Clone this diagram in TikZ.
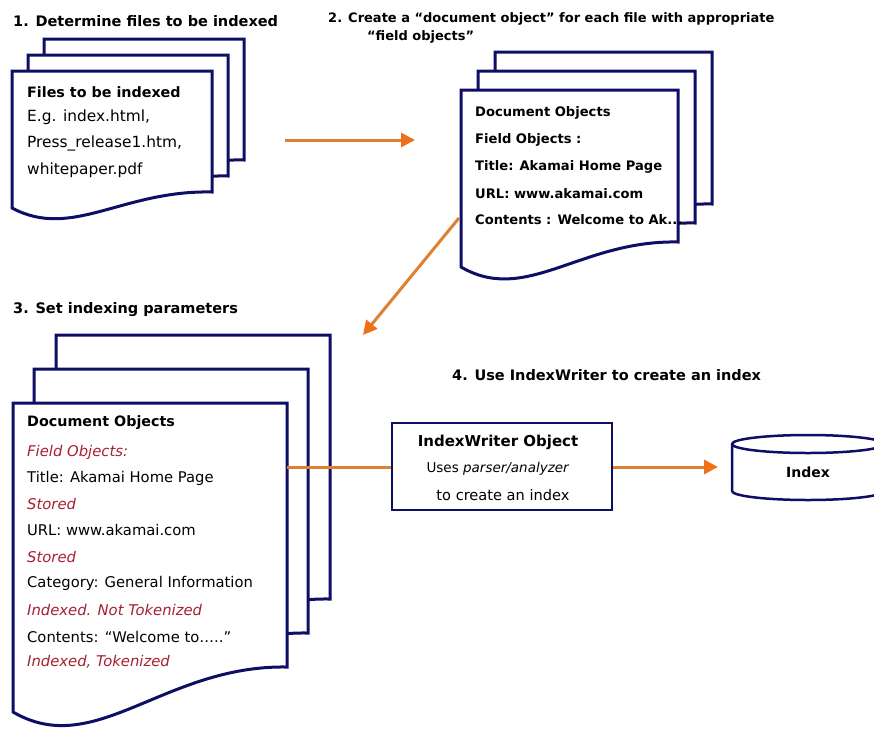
\documentclass[tikz,border=0pt]{standalone}
\usepackage{fontspec}
\setmainfont{DejaVu Sans}
\usetikzlibrary{arrows.meta}
\definecolor{navy}{RGB}{14,14,100}
\definecolor{flow}{RGB}{222,128,48}
\definecolor{flowtip}{RGB}{240,112,24}
\definecolor{attr}{RGB}{168,32,48}

% one sheet of a stacked "document" symbol:
% #1 left, #2 top, #3 right, #4 bottom-left y, #5 bottom-right y, #6 depth of the wave
\newcommand\docsheet[6]{%
  \pgfmathsetmacro\dW{#3-#1}%
  \pgfmathsetmacro\cAx{#1+0.3*\dW}%
  \pgfmathsetmacro\cAy{#4+#6}%
  \pgfmathsetmacro\cBx{#1+0.55*\dW}%
  \pgfmathsetmacro\cBy{#5-2}%
  \filldraw[sheet] (#1,#2) -- (#3,#2) -- (#3,#5)
    .. controls (\cBx,\cBy) and (\cAx,\cAy) .. (#1,#4) -- cycle;
}
\newcommand\fsz[1]{\fontsize{#1}{#1}\selectfont}

\tikzset{
  sheet/.style={draw=navy, fill=white, line width=3pt, line join=miter},
  steptitle/.style={anchor=west, inner sep=0pt, font=\bfseries\fsz{14.5}},
  bodytext/.style={anchor=west, inner sep=0pt, font=\fsz{15}},
  boldtext/.style={anchor=west, inner sep=0pt, font=\bfseries\fsz{14.3}},
  attrtext/.style={bodytext, text=attr, font=\itshape\fsz{14.8}},
  flowline/.style={draw=flow, line width=3pt},
  flowarrow/.style={flowline, -{Triangle[length=14pt,width=14pt,color=flowtip]}},
  box/.style={draw=navy, line width=2.5pt, fill=white, minimum width=220pt, minimum height=87pt, inner sep=0pt},
}

\begin{document}
\begin{tikzpicture}[x=1pt, y=-1pt]
  \useasboundingbox (0,0) rectangle (874,728);
  \clip (0,0) rectangle (874,728);

  % step titles
  \node[steptitle] (t1) at (13,21) {1. Determine files to be indexed};
  \node[steptitle, font=\bfseries\fsz{13}] (t2) at (328,19) {2. Create a “document object” for each file with appropriate};
  \node[steptitle, font=\bfseries\fsz{13}] (t2b) at (367,37) {“field objects”};
  \node[steptitle] (t3) at (13,310) {3. Set indexing parameters};
  \node[steptitle] (t4) at (452,375) {4. Use IndexWriter to create an index};

  % stack 1: files
  \docsheet{44}{39}{244}{176}{160}{32}
  \docsheet{28}{55}{228}{192}{176}{32}
  \docsheet{12}{71}{212}{208}{192}{32}
  \node[boldtext] (f0) at (27,92) {Files to be indexed};
  \node[bodytext, font=\fsz{15.4}] (f1) at (27,117) {E.g. index.html,};
  \node[bodytext, font=\fsz{15.4}] (f2) at (27,143) {Press\_release1.htm,};
  \node[bodytext, font=\fsz{15.4}] (f3) at (27,170) {whitepaper.pdf};

  % stack 2: document objects
  \docsheet{495}{52}{712}{229}{204}{38}
  \docsheet{478}{71}{695}{248}{223}{38}
  \docsheet{461}{90}{678}{267}{242}{38}
  \node[boldtext, font=\bfseries\fsz{13.1}] (d0) at (475,113) {Document Objects};
  \node[boldtext, font=\bfseries\fsz{13.1}] (d1) at (475,140) {Field Objects :};
  \node[boldtext, font=\bfseries\fsz{13.1}] (d2) at (475,167) {Title: Akamai Home Page};
  \node[boldtext, font=\bfseries\fsz{13.1}] (d3) at (475,194) {URL: www.akamai.com};
  \node[boldtext, font=\bfseries\fsz{13.1}] (d4) at (475,220) {Contents : Welcome to Ak...};

  % stack 3: indexing parameters
  \docsheet{56}{335}{330}{644}{599}{48}
  \docsheet{34}{369}{308}{678}{633}{48}
  \docsheet{13}{403}{287}{712}{667}{48}
  \node[boldtext] (p0) at (27,423) {Document Objects};
  \node[attrtext] (p1) at (27,452) {Field Objects:};
  \node[bodytext, font=\fsz{14.75}] (p2) at (27,478) {Title: Akamai Home Page};
  \node[attrtext] (p3) at (27,504) {Stored};
  \node[bodytext, font=\fsz{14.75}] (p4) at (27,530) {URL: www.akamai.com};
  \node[attrtext] (p5) at (27,557) {Stored};
  \node[bodytext, font=\fsz{14.75}] (p6) at (27,583) {Category: General Information};
  \node[attrtext] (p7) at (27,610) {Indexed. Not Tokenized};
  \node[bodytext, font=\fsz{14.75}] (p8) at (27,637) {Contents: “Welcome to…..”};
  \node[attrtext] (p9) at (27,662) {Indexed, Tokenized};

  % IndexWriter box
  \node[box] (iw) at (502,466.5) {};
  \node[boldtext, anchor=center, font=\bfseries\fsz{15}] (iw0) at (498,442) {IndexWriter Object};
  \node[bodytext, anchor=center, font=\fsz{13.5}] (iw1) at (498,469) {Uses \textit{parser/analyzer}};
  \node[bodytext, anchor=center, font=\fsz{14.6}] (iw2) at (503,495) {to create an index};

  % index store (cylinder)
  \filldraw[sheet, line width=2.5pt] (732,444) -- (732,491) arc[start angle=180, end angle=360, x radius=76, y radius=-9]
    -- (884,444) arc[start angle=0, end angle=180, x radius=76, y radius=-9] -- cycle;
  \draw[navy, line width=2.5pt] (732,444) arc[start angle=180, end angle=360, x radius=76, y radius=-9];
  \node[boldtext, anchor=center, font=\bfseries\fsz{14}] (idx) at (808,472) {Index};

  % connectors
  \coordinate (a1s) at (285,140);
  \coordinate (a1e) at (415,140);
  \draw[flowarrow] (a1s) -- (a1e);
  \coordinate (a2s) at (459,218);
  \coordinate (a2e) at (363,335);
  \draw[flowarrow] (a2s) -- (a2e);
  \coordinate (s3r) at (287,467);
  \draw[flowline] (s3r) -- (s3r -| iw.west);
  \coordinate (a4e) at (718,467);
  \draw[flowarrow] (iw.east |- a4e) -- (a4e);
\end{tikzpicture}
\end{document}
